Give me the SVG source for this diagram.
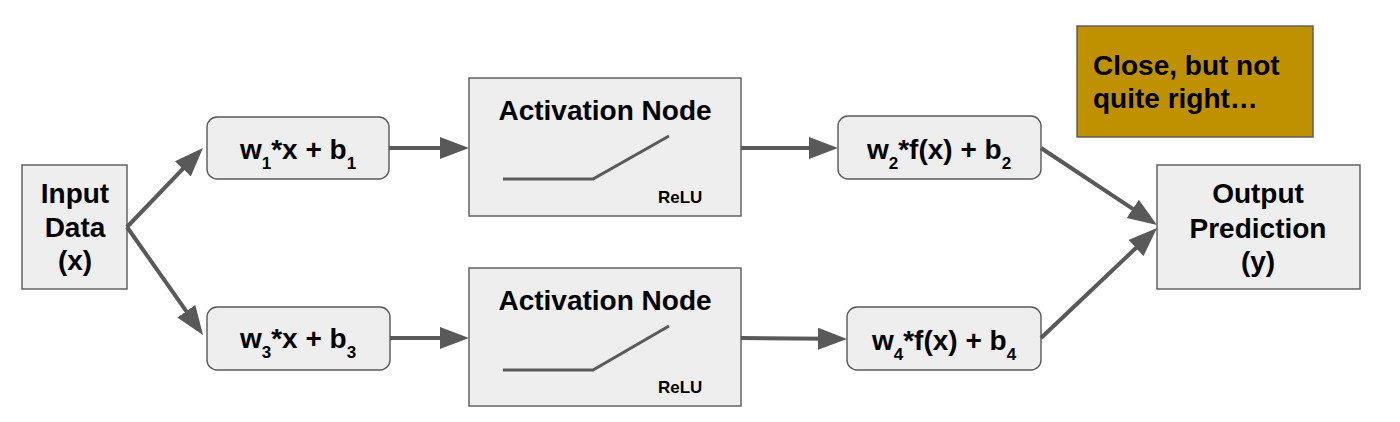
<svg xmlns="http://www.w3.org/2000/svg" width="1400" height="422" viewBox="0 0 1400 422">
<style>
.box{fill:#eeeeee;stroke:#595959;stroke-width:1.4}
.t{font-family:"Liberation Sans",Arial,sans-serif;font-weight:bold;font-size:28px;fill:#000;text-anchor:middle}
.sub{font-size:17px}
.relu{font-family:"Liberation Sans",Arial,sans-serif;font-weight:bold;font-size:17px;fill:#000}
.curve{fill:none;stroke:#595959;stroke-width:3}
.conn line{stroke:#595959;stroke-width:4}
</style>
<defs>
<marker id="ah" markerUnits="userSpaceOnUse" markerWidth="30" markerHeight="24" refX="9" refY="11" orient="auto">
<path d="M0,0 L29,11 L0,22 z" fill="#595959"/>
</marker>
</defs>
<rect width="1400" height="422" fill="#ffffff"/>

<g id="note">
<rect x="1077" y="26" width="236" height="111" fill="#bf9000" stroke="#595959" stroke-width="1.4"/>
<text class="t" style="text-anchor:start" x="1093" y="75">Close, but not</text>
<text class="t" style="text-anchor:start" x="1093" y="108">quite right…</text>
</g>

<g id="input">
<rect class="box" x="22" y="165" width="105" height="124"/>
<text class="t" x="75" y="203">Input</text>
<text class="t" x="75" y="237">Data</text>
<text class="t" x="75" y="270">(x)</text>
</g>

<g id="lin1">
<rect class="box" x="207" y="117" width="182" height="62" rx="10"/>
<text class="t" x="298" y="159">w<tspan class="sub" dy="10">1</tspan><tspan dy="-10">*x + b</tspan><tspan class="sub" dy="10">1</tspan></text>
</g>

<g id="lin3">
<rect class="box" x="207" y="307" width="183" height="63" rx="10"/>
<text class="t" x="298" y="348">w<tspan class="sub" dy="10">3</tspan><tspan dy="-10">*x + b</tspan><tspan class="sub" dy="10">3</tspan></text>
</g>

<g id="act1">
<rect class="box" x="469" y="78" width="272" height="138"/>
<text class="t" x="605" y="120">Activation Node</text>
<polyline class="curve" points="503,179 593,179 669,136"/>
<text class="relu" x="658" y="203">ReLU</text>
</g>

<g id="act2">
<rect class="box" x="469" y="268" width="272" height="138"/>
<text class="t" x="605" y="310">Activation Node</text>
<polyline class="curve" points="503,370 593,370 669,326"/>
<text class="relu" x="658" y="393">ReLU</text>
</g>

<g id="lin2">
<rect class="box" x="838" y="116" width="203" height="63" rx="10"/>
<text class="t" x="939" y="159">w<tspan class="sub" dy="10">2</tspan><tspan dy="-10">*f(x) + b</tspan><tspan class="sub" dy="10">2</tspan></text>
</g>

<g id="lin4">
<rect class="box" x="847" y="307" width="194" height="63" rx="10"/>
<text class="t" x="944" y="350">w<tspan class="sub" dy="10">4</tspan><tspan dy="-10">*f(x) + b</tspan><tspan class="sub" dy="10">4</tspan></text>
</g>

<g id="output">
<rect class="box" x="1157" y="165" width="203" height="124"/>
<text class="t" x="1258" y="203">Output</text>
<text class="t" x="1258" y="238">Prediction</text>
<text class="t" x="1258" y="271">(y)</text>
</g>

<g id="connectors" class="conn">
<line x1="127" y1="227" x2="189.1" y2="162.4" marker-end="url(#ah)"/>
<line x1="127" y1="227" x2="191.5" y2="318.6" marker-end="url(#ah)"/>
<line x1="389" y1="148" x2="449" y2="148" marker-end="url(#ah)"/>
<line x1="390" y1="338" x2="449" y2="338" marker-end="url(#ah)"/>
<line x1="741" y1="148" x2="818" y2="148" marker-end="url(#ah)"/>
<line x1="741" y1="338" x2="827" y2="338.8" marker-end="url(#ah)"/>
<line x1="1041" y1="148" x2="1140.3" y2="213.9" marker-end="url(#ah)"/>
<line x1="1041" y1="338" x2="1142.5" y2="241.8" marker-end="url(#ah)"/>
</g>
</svg>
